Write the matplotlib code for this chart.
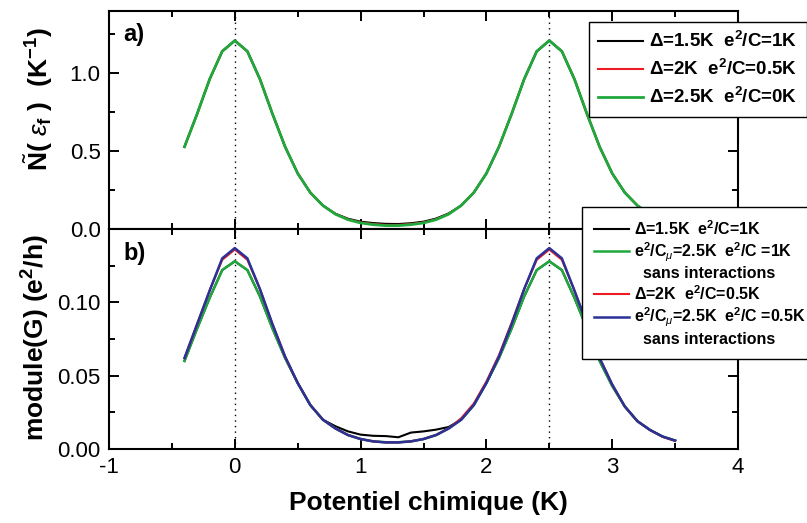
import numpy as np
import matplotlib
matplotlib.use('Agg')
import matplotlib.pyplot as plt
from matplotlib.lines import Line2D
from matplotlib.ticker import MultipleLocator, FixedLocator
from matplotlib.font_manager import FontProperties

plt.rcParams['font.family'] = ['Liberation Sans', 'DejaVu Sans']
plt.rcParams['mathtext.fontset'] = 'custom'
plt.rcParams['mathtext.rm'] = 'Liberation Sans'
plt.rcParams['mathtext.it'] = 'Liberation Sans:italic'
plt.rcParams['mathtext.bf'] = 'Liberation Sans:bold'
plt.rcParams['axes.unicode_minus'] = False

# ---- data ----
mu = np.round(np.arange(-0.4, 3.51, 0.1), 1)

N_black = [0.528, 0.738, 0.962, 1.141, 1.210, 1.141, 0.962, 0.738, 0.528, 0.357,
           0.234, 0.151, 0.098, 0.066, 0.047, 0.038, 0.033, 0.032, 0.037, 0.047,
           0.067, 0.100, 0.151, 0.234, 0.357, 0.528, 0.738, 0.962, 1.141, 1.210,
           1.141, 0.962, 0.738, 0.528, 0.357, 0.234, 0.151, 0.094, 0.058, 0.036]
N_red = [0.528, 0.738, 0.962, 1.141, 1.210, 1.141, 0.962, 0.738, 0.528, 0.357,
         0.234, 0.151, 0.096, 0.062, 0.042, 0.032, 0.026, 0.026, 0.032, 0.042,
         0.062, 0.097, 0.151, 0.234, 0.357, 0.528, 0.738, 0.962, 1.141, 1.210,
         1.141, 0.962, 0.738, 0.528, 0.357, 0.234, 0.151, 0.094, 0.058, 0.036]
N_green = [0.528, 0.738, 0.962, 1.141, 1.210, 1.141, 0.962, 0.738, 0.528, 0.357,
           0.234, 0.151, 0.095, 0.060, 0.039, 0.028, 0.022, 0.022, 0.028, 0.039,
           0.060, 0.095, 0.151, 0.234, 0.357, 0.528, 0.738, 0.962, 1.141, 1.210,
           1.141, 0.962, 0.738, 0.528, 0.357, 0.234, 0.151, 0.094, 0.058, 0.036]

G_black = [0.060, 0.082, 0.103, 0.122, 0.128, 0.122, 0.104, 0.082, 0.062, 0.045,
           0.030, 0.020, 0.0155, 0.0120, 0.0098, 0.0090, 0.0088, 0.0080, 0.0112, 0.0120,
           0.0132, 0.0150, 0.020, 0.030, 0.045, 0.062, 0.082, 0.104, 0.122, 0.128,
           0.122, 0.103, 0.082, 0.060, 0.043, 0.029, 0.019, 0.013, 0.0085, 0.0057]
G_green = [0.060, 0.082, 0.103, 0.122, 0.128, 0.122, 0.104, 0.082, 0.062, 0.045,
           0.030, 0.020, 0.014, 0.0095, 0.0068, 0.0052, 0.0046, 0.0046, 0.0052, 0.0068,
           0.0095, 0.014, 0.020, 0.030, 0.045, 0.062, 0.082, 0.104, 0.122, 0.128,
           0.122, 0.103, 0.082, 0.060, 0.043, 0.029, 0.019, 0.013, 0.0085, 0.0057]
G_red = [0.062, 0.085, 0.108, 0.129, 0.136, 0.129, 0.109, 0.085, 0.063, 0.045,
         0.030, 0.020, 0.014, 0.0095, 0.0068, 0.0052, 0.0045, 0.0045, 0.0052, 0.0068,
         0.0096, 0.014, 0.021, 0.031, 0.046, 0.064, 0.086, 0.109, 0.129, 0.136,
         0.129, 0.108, 0.085, 0.062, 0.044, 0.029, 0.019, 0.013, 0.0083, 0.0055]
G_blue = [0.062, 0.085, 0.108, 0.130, 0.137, 0.130, 0.109, 0.085, 0.063, 0.045,
          0.030, 0.020, 0.014, 0.0095, 0.0068, 0.0052, 0.0045, 0.0045, 0.0052, 0.0068,
          0.0095, 0.014, 0.020, 0.030, 0.045, 0.063, 0.085, 0.109, 0.130, 0.137,
          0.130, 0.108, 0.085, 0.062, 0.044, 0.029, 0.019, 0.013, 0.0085, 0.0058]

peak_positions = [0.0, 2.5]

legend_a = ['Δ=1.5K  e$^{\\mathbf{2}}$/C=1K',
            'Δ=2K  e$^{\\mathbf{2}}$/C=0.5K',
            'Δ=2.5K  e$^{\\mathbf{2}}$/C=0K']
legend_b = ['Δ=1.5K  e$^{\\mathbf{2}}$/C=1K',
            'e$^{\\mathbf{2}}$/C$_{\\mu}$=2.5K  e$^{\\mathbf{2}}$/C =1K',
            '  sans interactions',
            'Δ=2K  e$^{\\mathbf{2}}$/C=0.5K',
            'e$^{\\mathbf{2}}$/C$_{\\mu}$=2.5K  e$^{\\mathbf{2}}$/C =0.5K',
            '  sans interactions']

C_BLACK = 'black'
C_RED = '#ed1c24'
C_GREEN = '#1fa83c'
C_BLUE = '#2b3197'

W, H = 807, 523
fig = plt.figure(figsize=(W / 100, H / 100), dpi=100)
ax1 = fig.add_axes([109 / W, 1 - 229 / H, 629 / W, 218 / H])
ax2 = fig.add_axes([109 / W, 1 - 449 / H, 629 / W, 220 / H])

# top panel
ax1.plot(mu, N_black, color=C_BLACK, lw=1.5, label=legend_a[0])
ax1.plot(mu, N_red, color=C_RED, lw=1.5, label=legend_a[1])
ax1.plot(mu, N_green, color=C_GREEN, lw=2.0, label=legend_a[2])
ax1.set_ylim(0, 1.4)

# bottom panel
lb, = ax2.plot(mu, G_black, color=C_BLACK, lw=1.5)
lg, = ax2.plot(mu, G_green, color=C_GREEN, lw=1.8)
lr, = ax2.plot(mu, G_red, color=C_RED, lw=1.5)
lu, = ax2.plot(mu, G_blue, color=C_BLUE, lw=1.8)
ax2.set_ylim(0, 0.15)

for ax in (ax1, ax2):
    ax.set_xlim(-1, 4)
    for p in peak_positions:
        ax.axvline(p, color='black', lw=1.0, ls=(0, (1, 3)), zorder=0)
    ax.xaxis.set_major_locator(MultipleLocator(1))
    ax.xaxis.set_minor_locator(MultipleLocator(0.5))
    ax.tick_params(which='both', direction='in', top=True, right=True, width=1.4,
                   labelsize=16, pad=6)
    ax.tick_params(which='major', length=7)
    ax.tick_params(which='minor', length=4)
    for s in ax.spines.values():
        s.set_linewidth(1.5)

ax1.yaxis.set_major_locator(FixedLocator([0.0, 0.5, 1.0]))
ax1.yaxis.set_minor_locator(FixedLocator([0.25, 0.75, 1.25]))
ax1.yaxis.set_major_formatter(matplotlib.ticker.FormatStrFormatter('%.1f'))
ax1.tick_params(labelbottom=False)
ax2.yaxis.set_major_locator(FixedLocator([0.0, 0.05, 0.10]))
ax2.yaxis.set_minor_locator(FixedLocator([0.025, 0.075, 0.125]))
ax2.yaxis.set_major_formatter(matplotlib.ticker.FormatStrFormatter('%.2f'))

ax1.text((123 - 109) / 629, 1 - (35 - 11) / 218, 'a)', transform=ax1.transAxes,
         fontsize=17, fontweight='bold', ha='left', va='center')
ax2.text((123 - 109) / 629, 1 - (253 - 229) / 220, 'b)', transform=ax2.transAxes,
         fontsize=17, fontweight='bold', ha='left', va='center')

fig.text(428 / W, 1 - 503 / H, 'Potentiel chimique (K)', fontsize=19,
         fontweight='bold', ha='center', va='center')
fig.text(38 / W, 1 - 99 / H,
         r'$\tilde{\mathbf{N}}$( $\varepsilon_{\mathbf{f}}$ )  (K$^{\mathbf{-1}}$)',
         fontsize=19, fontweight='bold', rotation=90, ha='center', va='center')
fig.text(36 / W, 1 - 338 / H, 'module(G) (e$^{\\mathbf{2}}$/h)', fontsize=19,
         fontweight='bold', rotation=90, ha='center', va='center')

propA = FontProperties(family='Liberation Sans', weight='bold', size=13.5)
legA = ax1.legend(loc='upper left', bbox_to_anchor=(589 / W, 1 - 22 / H),
                  bbox_transform=fig.transFigure, prop=propA, frameon=True,
                  fancybox=False, shadow=False, edgecolor='black', framealpha=1,
                  borderaxespad=0, handlelength=2.4, handletextpad=0.3,
                  labelspacing=0.42, borderpad=0.5)
legA.get_frame().set_linewidth(1.0)

propB = FontProperties(family='Liberation Sans', weight='bold', size=11.5)
blank = Line2D([], [], color='none')
handlesB = [Line2D([], [], color=C_BLACK, lw=1.5),
            Line2D([], [], color=C_GREEN, lw=1.8), blank,
            Line2D([], [], color=C_RED, lw=1.5),
            Line2D([], [], color=C_BLUE, lw=1.8), blank]
legB = ax2.legend(handlesB, legend_b, loc='upper left',
                  bbox_to_anchor=(582 / W, 1 - 207 / H),
                  bbox_transform=fig.transFigure, prop=propB, frameon=True,
                  fancybox=False, shadow=False, edgecolor='black', framealpha=1,
                  borderaxespad=0, handlelength=2.2, handletextpad=0.3,
                  labelspacing=0.17, borderpad=0.75)
legB.get_frame().set_linewidth(1.0)
legB.set_zorder(10)

fig.savefig('out.png', dpi=100)
